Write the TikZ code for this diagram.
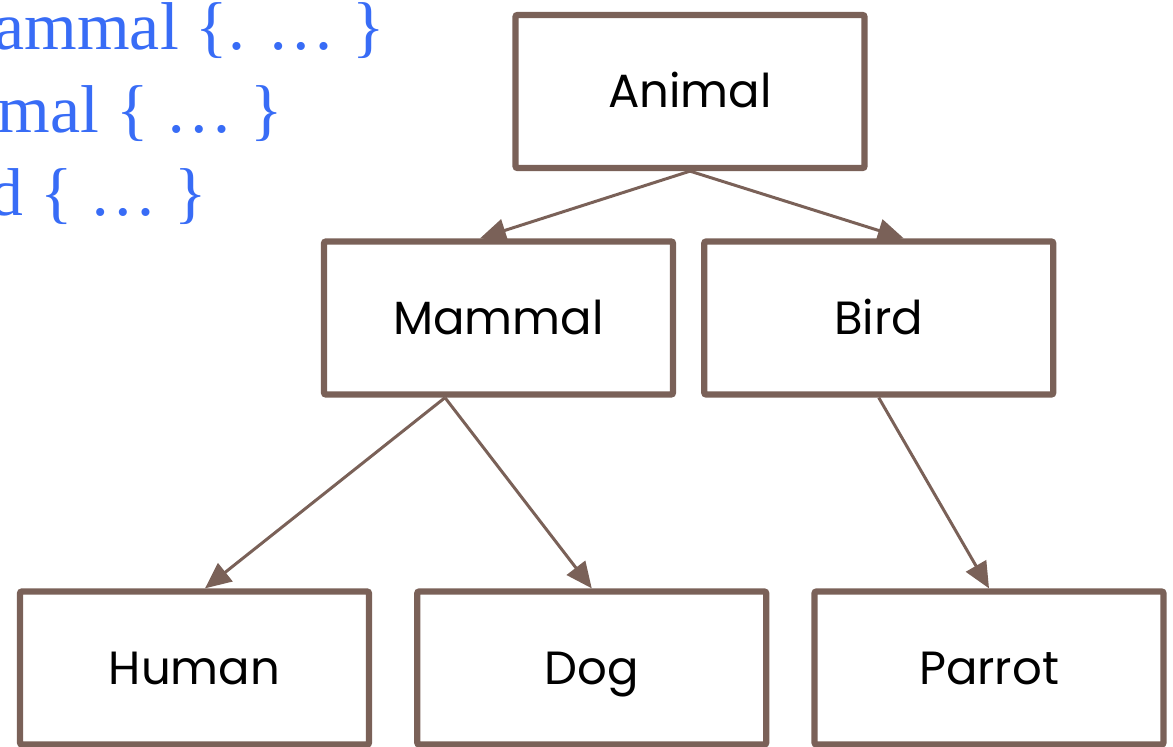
\documentclass[tikz,border=0pt]{standalone}
\usepackage{fontspec}
\setmainfont{Poppins}
\newfontfamily\codefont{Liberation Serif}
\usepackage{tikz}
\usetikzlibrary{positioning,arrows.meta}
\definecolor{boxbrown}{RGB}{122,97,88}
\definecolor{codeblue}{RGB}{56,108,246}
\tikzstyle{classbox}=[rectangle,draw=boxbrown,line width=3.6pt,rounded corners=0.04cm,minimum width=6.98cm,minimum height=3.06cm,inner sep=0pt,align=center,text height=0.64cm,text depth=0pt,font=\fontsize{26.5}{32}\selectfont]

\begin{document}
\begin{tikzpicture}[x=0.02cm,y=-0.02cm]

\tikzstyle{inherit} = [draw=boxbrown, line width=1.7pt, -{Triangle[length=0.52cm,width=0.46cm]}]
\tikzstyle{code} = [text=codeblue, inner sep=0pt, anchor=base east, font=\codefont\fontsize{38.5}{40}\selectfont]

\useasboundingbox (0,0) rectangle (1173,747);
\clip (0,0) rectangle (1173,747);

% code lines (cut at the left)
\node [code] (line1) at (385,50) {Mammal \{. \dots\ \}};
\node [code] (line2) at (283,132) {mal \{ \dots\ \}};
\node [code] (line3) at (207,215) {d \{ \dots\ \}};

% top class
\node [classbox] (animal) at (690,91.5) {Animal};

% second row
\node [classbox] (mammal) at (498.5,318) {Mammal};
\node [classbox, right=0.5cm of mammal] (bird) {Bird};
\draw [inherit] (animal.south) -- ([xshift=-0.37cm]mammal.north);
\draw [inherit] (animal.south) -- ([xshift=0.5cm]bird.north);

% third row
\node [classbox] (human) at (194.5,668) {Human};
\node [classbox, right=0.84cm of human] (dog) {Dog};
\node [classbox, right=0.84cm of dog] (parrot) {Parrot};
\draw [inherit] ([xshift=-1.07cm]mammal.south) -- ([xshift=0.21cm]human.north);
\draw [inherit] ([xshift=-1.07cm]mammal.south) -- (dog.north);
\draw [inherit] (bird.south) -- (parrot.north);

\end{tikzpicture}
\end{document}
